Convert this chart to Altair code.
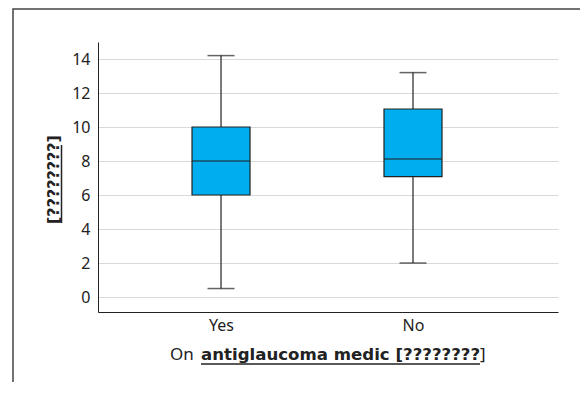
import altair as alt
import pandas as pd

groups = ["Yes", "No"]
lower = [0.5, 2.0]
q1 = [6.0, 7.08]
median = [8.0, 8.12]
q3 = [10.0, 11.06]
upper = [14.2, 13.2]
y_ticks = [0, 2, 4, 6, 8, 10, 12, 14]

df = pd.DataFrame({"group": groups, "lower": lower, "q1": q1,
                   "median": median, "q3": q3, "upper": upper})

FONT = "Noto Sans"
BOLD = "DejaVu Sans"
xscale = alt.Scale(type="point", padding=0.698, align=0.459)
yscale = alt.Scale(domain=[-0.88, 15.0], nice=False, zero=False)

xaxis = alt.Axis(title=None, ticks=False, labelAngle=0, labelPadding=5,
                 labelFontSize=16, labelColor="#222", labelFont=FONT,
                 domainColor="#222", grid=False)
yaxis = alt.Axis(title=None, values=y_ticks, ticks=False, labelPadding=8,
                 labelFontSize=16, labelColor="#222", labelFont=FONT, labelOverlap=False,
                 domainColor="#222", gridColor="#d9d9d9", gridWidth=1.2)


def X():
    return alt.X("group:N", sort=groups, scale=xscale, axis=xaxis)


def Y(f):
    return alt.Y(f + ":Q", scale=yscale, axis=yaxis)


base = alt.Chart(df)

whisk = base.mark_rule(color="#222", strokeWidth=1.2).encode(
    x=X(), y=Y("lower"), y2="upper:Q")
box = base.mark_bar(size=58, fill="#00AEEF", stroke="#222", strokeWidth=1.2).encode(
    x=X(), y=Y("q1"), y2="q3:Q")
med = base.mark_tick(size=58, thickness=1.5, color="#222").encode(
    x=X(), y=Y("median"))
capl = base.mark_tick(size=27, thickness=1.5, color="#222").encode(
    x=X(), y=Y("lower"))
capu = base.mark_tick(size=27, thickness=1.5, color="#222").encode(
    x=X(), y=Y("upper"))

one = alt.Chart(pd.DataFrame({"k": [0]}))

frame = one.mark_rect(fill=None, stroke="#444", strokeWidth=1.5, clip=False).encode(
    x=alt.value(-85), x2=alt.value(600), y=alt.value(-33), y2=alt.value(500))

ytitle = one.mark_text(text="[????????]", angle=270, font=BOLD, fontSize=16,
                       fontWeight="bold", color="#222", baseline="alphabetic",
                       align="center").encode(x=alt.value(-39), y=alt.value(137.5))
yunder = one.mark_rule(color="#222", strokeWidth=1.5).encode(
    x=alt.value(-36.5), y=alt.value(103), y2=alt.value(181))

xt1 = one.mark_text(text="On", font=FONT, fontSize=17, color="#222",
                    align="left", baseline="alphabetic").encode(x=alt.value(72), y=alt.value(318))
xt2 = one.mark_text(text="antiglaucoma medic [????????", font=BOLD, fontSize=16.6,
                    fontWeight="bold", color="#222", align="left",
                    baseline="alphabetic").encode(x=alt.value(103), y=alt.value(318))
xt3 = one.mark_text(text="]", font=FONT, fontSize=17, color="#222",
                    align="left", baseline="alphabetic").encode(x=alt.value(382), y=alt.value(318))
xunder = one.mark_rule(color="#222", strokeWidth=1.5).encode(
    x=alt.value(103), x2=alt.value(382), y=alt.value(322))

chart = alt.layer(frame, whisk, box, med, capl, capu, ytitle, yunder, xt1, xt2, xt3, xunder).properties(
    width=460, height=270,
    background="white",
    autosize=alt.AutoSizeParams(type="none"),
    padding={"left": 90, "top": 34, "right": 22, "bottom": 70},
).configure_view(stroke=None)

chart.save("out.html", embed_options={"renderer": "svg", "actions": False})
